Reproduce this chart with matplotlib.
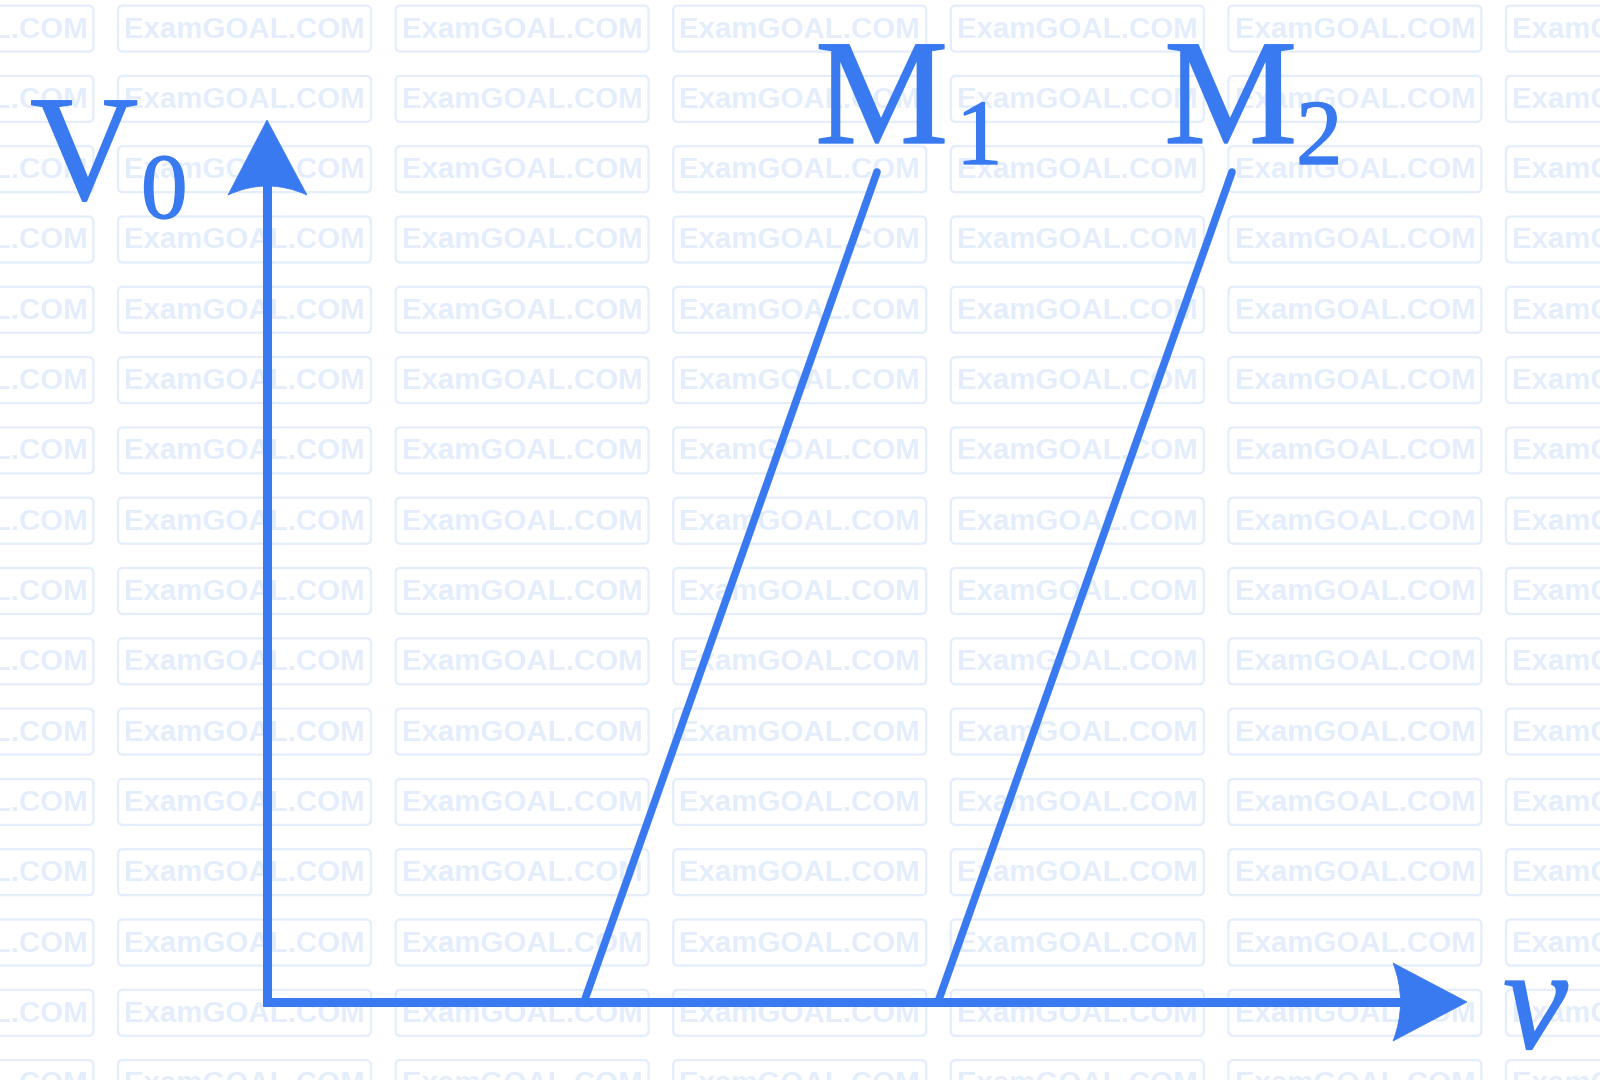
import matplotlib
matplotlib.use("Agg")
import matplotlib.pyplot as plt
import matplotlib.patheffects as pe
from matplotlib.patches import FancyBboxPatch, PathPatch
from matplotlib.path import Path

blue = "#3a7af0"
wm = "#e4edfc"

# data (nu on x, V0 on y), origin at axis corner
m1_nu = [3.17, 6.1]
m1_v0 = [0.0, 8.3]
m2_nu = [6.71, 9.65]
m2_v0 = [0.0, 8.3]
nu_max = 12.0
v0_max = 8.82

fig = plt.figure(figsize=(16, 10.8), dpi=100)

# watermark layer in pixel coords
bg = fig.add_axes([0, 0, 1, 1])
bg.set_xlim(0, 1600)
bg.set_ylim(1080, 0)
bg.axis("off")
for c in range(7):
    x0 = -159.6 + c * 277.6
    for r in range(16):
        yc = 28.6 + r * 70.3
        bg.add_patch(FancyBboxPatch((x0, yc - 23), 253, 46,
                                    boxstyle="round,pad=0,rounding_size=5",
                                    fill=False, ec=wm, lw=1.6))
        bg.text(x0 + 126.5, yc + 1, "ExamGOAL.COM", color=wm, fontsize=21.2,
                fontweight="bold", family="Liberation Sans",
                ha="center", va="center")

# main chart
ax = fig.add_axes([0, 0, 1, 1])
ax.patch.set_alpha(0)
ax.set_xlim(-2.67, 13.33)
ax.set_ylim(-0.78, 10.02)
ax.axis("off")

ax.plot([0, 0], [-0.04, v0_max - 0.6], color=blue, lw=6.5, solid_capstyle="butt")
ax.plot([-0.04, nu_max - 0.6], [0, 0], color=blue, lw=6.5, solid_capstyle="butt")

# arrowheads with concave base
ya = Path([(0, v0_max), (-0.39, v0_max - 0.75), (0, v0_max - 0.57),
           (0.40, v0_max - 0.75), (0, v0_max)],
          [Path.MOVETO, Path.LINETO, Path.CURVE3, Path.CURVE3, Path.CLOSEPOLY])
ax.add_patch(PathPatch(ya, fc=blue, ec=blue, lw=0.5))
xa = Path([(nu_max, 0), (nu_max - 0.74, 0.39), (nu_max - 0.59, 0),
           (nu_max - 0.74, -0.39), (nu_max, 0)],
          [Path.MOVETO, Path.LINETO, Path.CURVE3, Path.CURVE3, Path.CLOSEPOLY])
ax.add_patch(PathPatch(xa, fc=blue, ec=blue, lw=0.5))

ax.plot(m1_nu, m1_v0, color=blue, lw=5.5, solid_capstyle="round")
ax.plot(m2_nu, m2_v0, color=blue, lw=5.5, solid_capstyle="round")

serif = "Liberation Serif"
thick = [pe.withStroke(linewidth=1.0, foreground=blue)]
big = dict(color=blue, fontsize=108, family=serif, ha="left", va="baseline",
           path_effects=thick)
sub = dict(color=blue, fontsize=67, family=serif, ha="left", va="baseline",
           path_effects=thick)
ax.text(-2.37, 8.03, "V", **big)
ax.text(-1.26, 7.84, "0", **sub)
ax.text(5.48, 8.59, "M", **big)
ax.text(6.89, 8.38, "1", **sub)
ax.text(8.97, 8.59, "M", **big)
ax.text(10.29, 8.38, "2", **sub)
ax.text(12.36, -0.46, "v", color=blue, fontsize=105, family=serif, style="italic",
        ha="left", va="baseline", path_effects=thick)

fig.savefig("out.png", dpi=100)
